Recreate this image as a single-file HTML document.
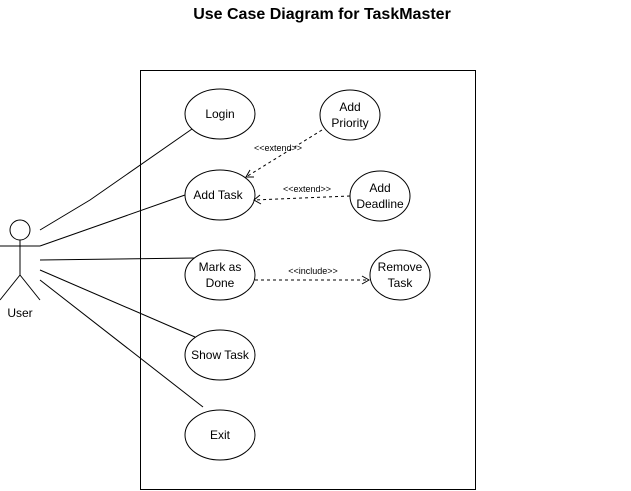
<!DOCTYPE html>
<html><head><style>body{margin:0;background:#fff}svg{display:block}</style></head><body>
<svg width="631" height="491" viewBox="0 0 631 491" xmlns="http://www.w3.org/2000/svg" font-family="Liberation Sans, Arial, sans-serif">
<text x="322" y="19" text-anchor="middle" font-size="16" font-weight="bold">Use Case Diagram for TaskMaster</text>
<rect x="140.5" y="70.5" width="335" height="419" fill="none" stroke="#000"/>
<g stroke="#000" fill="none">
<circle cx="20" cy="230" r="10"/>
<line x1="20" y1="240" x2="20" y2="275"/>
<line x1="0" y1="246" x2="40" y2="246"/>
<line x1="20" y1="275" x2="0" y2="300"/>
<line x1="20" y1="275" x2="40" y2="300"/>
<polyline points="40,230 90,200 192,129"/>
<line x1="40" y1="246" x2="185" y2="195"/>
<line x1="40" y1="260" x2="195" y2="258"/>
<line x1="40" y1="270" x2="195" y2="337"/>
<line x1="40" y1="280" x2="203" y2="407"/>
<g fill="#fff">
<ellipse cx="220" cy="114" rx="35" ry="25"/>
<ellipse cx="350" cy="115" rx="30" ry="25"/>
<ellipse cx="220" cy="195" rx="35" ry="25"/>
<ellipse cx="380" cy="196" rx="30" ry="25"/>
<ellipse cx="220" cy="275" rx="35" ry="25"/>
<ellipse cx="400" cy="275" rx="30" ry="25"/>
<ellipse cx="220" cy="355" rx="35" ry="25"/>
<ellipse cx="220" cy="435" rx="35" ry="25"/>
</g>
<g stroke-dasharray="3,3">
<line x1="322" y1="130" x2="246" y2="177"/>
<line x1="350" y1="196" x2="254" y2="200"/>
<line x1="255" y1="280" x2="369" y2="280"/>
</g>
<polyline points="250,170 246,177 254,177"/>
<polyline points="260,195 254,200 261,204"/>
<polyline points="362,276 369,280 362,284"/>
</g>
<g font-size="12" text-anchor="middle" fill="#000">
<text x="220" y="118">Login</text>
<text x="350" y="111">Add</text><text x="350" y="127">Priority</text>
<text x="218" y="199">Add Task</text>
<text x="380" y="192">Add</text><text x="380" y="208">Deadline</text>
<text x="220" y="271">Mark as</text><text x="220" y="287">Done</text>
<text x="400" y="271">Remove</text><text x="400" y="287">Task</text>
<text x="220" y="359">Show Task</text>
<text x="220" y="439">Exit</text>
<text x="20" y="317">User</text>
</g>
<g font-size="9" text-anchor="middle" fill="#000">
<text x="278" y="151">&lt;&lt;extend&gt;&gt;</text>
<text x="307" y="192">&lt;&lt;extend&gt;&gt;</text>
<text x="313" y="274">&lt;&lt;include&gt;&gt;</text>
</g>
</svg>
</body></html>
